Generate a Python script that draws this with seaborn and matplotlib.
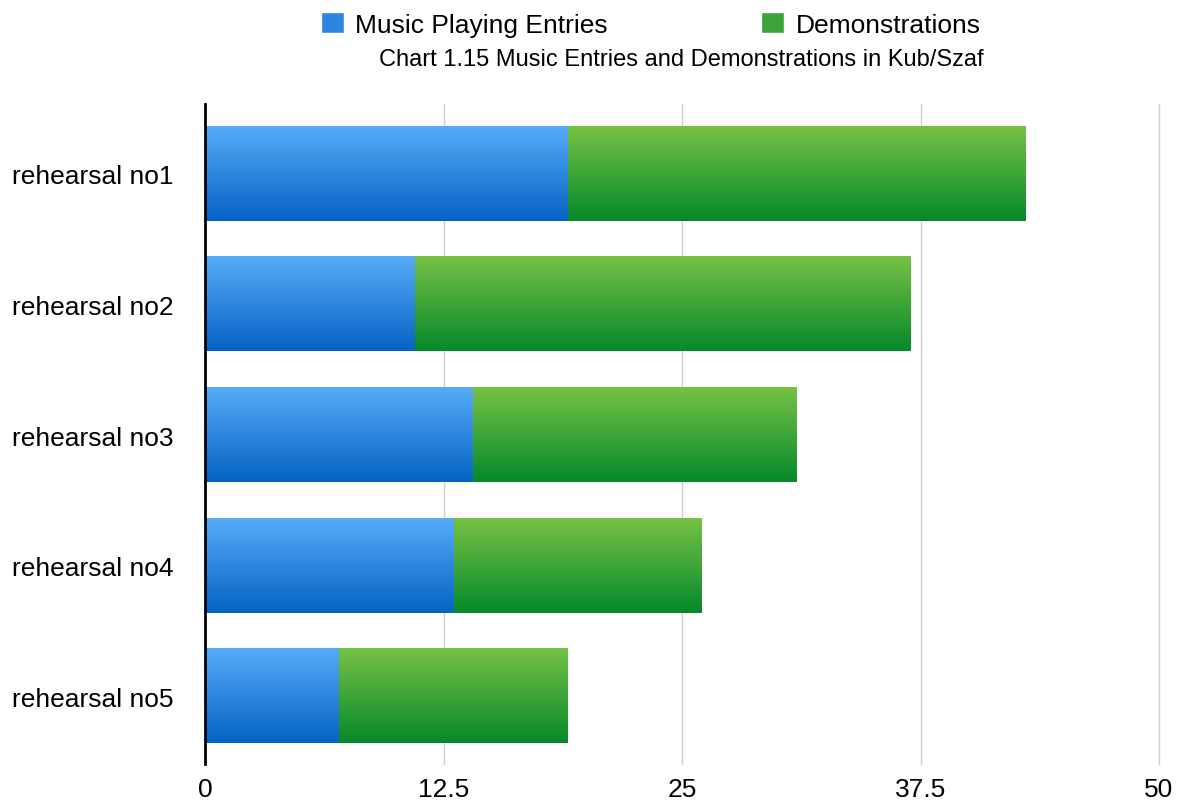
import seaborn as sns
import matplotlib.pyplot as plt
import matplotlib.colors as mcolors
from matplotlib.patches import Patch
import pandas as pd
import numpy as np

rehearsals = ['rehearsal no1', 'rehearsal no2', 'rehearsal no3', 'rehearsal no4', 'rehearsal no5']
music_entries = [19, 11, 14, 13, 7]
demonstrations = [24, 26, 17, 13, 12]
x_ticks = [0, 12.5, 25, 37.5, 50]
x_tick_labels = ['0', '12.5', '25', '37.5', '50']

blue_top, blue_bottom = '#57abf8', '#0563c4'
green_top, green_bottom = '#76c244', '#05892b'

df = pd.DataFrame({'rehearsal': rehearsals,
                   'music': music_entries,
                   'demo': demonstrations})
df['total'] = df['music'] + df['demo']

sns.set_style('white')
plt.rcParams['font.family'] = ['Liberation Sans', 'DejaVu Sans']
plt.rcParams['text.color'] = 'black'
plt.rcParams['xtick.color'] = 'black'
plt.rcParams['ytick.color'] = 'black'

fig = plt.figure(figsize=(11.81, 8.03), dpi=100)
ax = fig.add_axes([0.1736, 0.0473, 0.8078, 0.8219])

sns.barplot(data=df, y='rehearsal', x='total', color=green_bottom, width=0.72,
            orient='h', ax=ax, zorder=2)
n_green = len(ax.patches)
sns.barplot(data=df, y='rehearsal', x='music', color=blue_bottom, width=0.72,
            orient='h', ax=ax, zorder=3)


def gradient_fill(patch, top, bottom, z):
    # vertikalny gradient wewnatrz slupka
    x0, y0 = patch.get_x(), patch.get_y()
    w, h = patch.get_width(), patch.get_height()
    cmap = mcolors.LinearSegmentedColormap.from_list('g', [top, bottom])
    grad = np.linspace(0, 1, 256).reshape(-1, 1)
    ax.imshow(grad, cmap=cmap, aspect='auto', extent=(x0, x0 + w, y0 + h, y0),
              origin='upper', zorder=z, interpolation='bicubic')
    patch.set_alpha(0)


for i, p in enumerate(list(ax.patches)):
    if i < n_green:
        gradient_fill(p, green_top, green_bottom, 2)
    else:
        gradient_fill(p, blue_top, blue_bottom, 3)

ax.set_xlim(0, 50)
ax.set_ylim(4.52, -0.535)
ax.set_xticks(x_ticks)
ax.set_xticklabels(x_tick_labels, fontsize=19)
ax.tick_params(axis='y', labelsize=19, length=0, pad=139)
for lbl in ax.get_yticklabels():
    lbl.set_horizontalalignment('left')
ax.tick_params(axis='x', length=0, pad=9)
ax.set_xlabel('')
ax.set_ylabel('')
ax.grid(True, axis='x', color='#d0d0d0', linewidth=1, zorder=0)
for gl in ax.get_xgridlines():
    gl.set_clip_on(False)
ax.set_axisbelow(True)
for side in ['top', 'right', 'bottom']:
    ax.spines[side].set_visible(False)
ax.spines['left'].set_color('black')
ax.spines['left'].set_linewidth(2)
ax.spines['left'].set_zorder(5)

handles = [Patch(facecolor='#2a86e0', label='Music Playing Entries'),
           Patch(facecolor='#3aa43a', label='Demonstrations')]
fig.legend(handles=handles, loc='upper center', bbox_to_anchor=(0.551, 1.014), ncol=2,
           frameon=False, fontsize=19, handlelength=0.85, handleheight=0.9,
           columnspacing=5.8, handletextpad=0.45)
fig.text(0.5766, 0.925, 'Chart 1.15 Music Entries and Demonstrations in Kub/Szaf',
         ha='center', va='center', fontsize=17)

fig.savefig('out.png', dpi=100)
